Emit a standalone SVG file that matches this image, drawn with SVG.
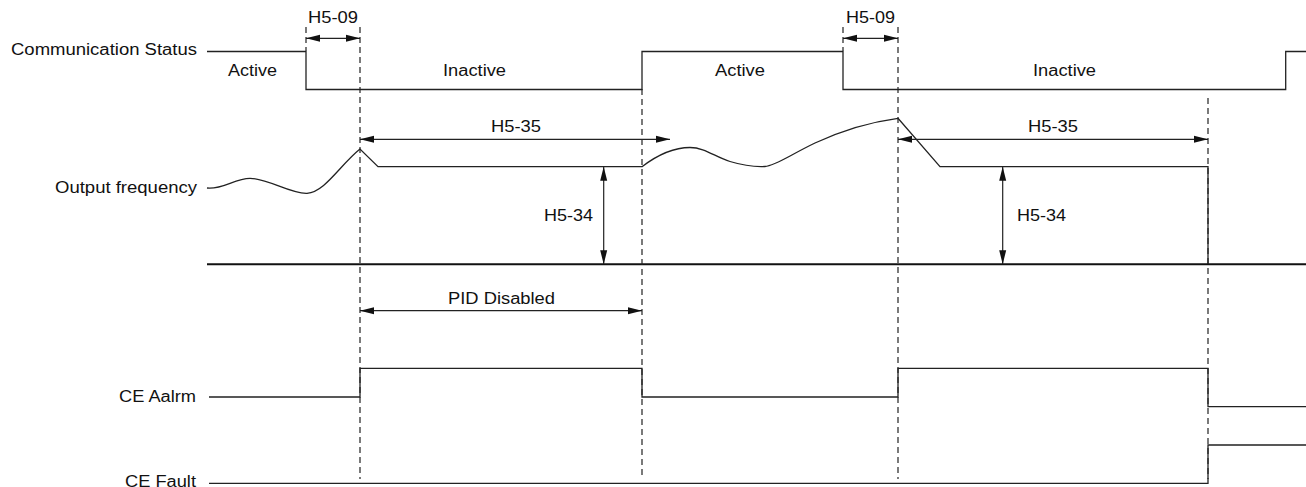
<svg xmlns="http://www.w3.org/2000/svg" width="1306" height="487" viewBox="0 0 1306 487">
  <style>
    .t { font-family: "Liberation Sans", Arial, sans-serif; font-size: 16px; fill: #111; }
    .sig { fill: none; stroke: #222; stroke-width: 1.3; }
    .axis { fill: none; stroke: #111; stroke-width: 2; }
    .dash { fill: none; stroke: #222; stroke-width: 1.2; stroke-dasharray: 6 4; }
    .dim { fill: none; stroke: #222; stroke-width: 1.2; marker-start: url(#ah); marker-end: url(#ah); }
  </style>
  <defs>
    <marker id="ah" viewBox="0 0 14 8" refX="14" refY="4" markerWidth="14" markerHeight="8" markerUnits="userSpaceOnUse" orient="auto-start-reverse">
      <path d="M0,0.5 L14,4 L0,7.5 z" fill="#111"/>
    </marker>
  </defs>
  <rect width="1306" height="487" fill="#fff"/>

  <g id="comm-status">
    <text class="t" x="11" y="55" textLength="186" lengthAdjust="spacingAndGlyphs">Communication Status</text>
    <path class="sig" d="M207,51.5 H306 V89.5 H642 V51.5 H843 V89.5 H1285.7 V51.5 H1306"/>
    <text class="t" x="228" y="76" textLength="49" lengthAdjust="spacingAndGlyphs">Active</text>
    <text class="t" x="443" y="76" textLength="63" lengthAdjust="spacingAndGlyphs">Inactive</text>
    <text class="t" x="715" y="76" textLength="50" lengthAdjust="spacingAndGlyphs">Active</text>
    <text class="t" x="1033" y="76" textLength="63" lengthAdjust="spacingAndGlyphs">Inactive</text>
  </g>

  <g id="output-frequency">
    <text class="t" x="55" y="193" textLength="142" lengthAdjust="spacingAndGlyphs">Output frequency</text>
    <path class="sig" d="M207,188 C222,190 235,178.3 250,178.3 C268,178.3 290,194 307,193.3 C325,192 340,165 360,149 L378,166.7 H642 C660,153 675,147.5 690,147.5 C705,147.5 715,157 730,161.5 C745,166 755,167 765,166.5 C775,166 790,155 815,143 C845,129 870,122 898,118.3 L940,166.7 H1208 V264"/>
    <line class="axis" x1="207" y1="264.3" x2="1306" y2="264.3"/>
  </g>

  <g id="ce-alarm">
    <text class="t" x="119" y="402" textLength="77" lengthAdjust="spacingAndGlyphs">CE Aalrm</text>
    <path class="sig" d="M209,397 H360 V368.3 H642 V397 H898 V368.3 H1208 V406.7 H1306"/>
  </g>

  <g id="ce-fault">
    <text class="t" x="125" y="486.5" textLength="71" lengthAdjust="spacingAndGlyphs">CE Fault</text>
    <path class="sig" d="M209,483.3 H1208 V445 H1306"/>
  </g>

  <g id="connectors">
    <line class="dash" x1="306" y1="27" x2="306" y2="51"/>
    <line class="dash" x1="360" y1="27" x2="360" y2="479"/>
    <line class="dash" x1="642" y1="89" x2="642" y2="479"/>
    <line class="dash" x1="843" y1="27" x2="843" y2="51"/>
    <line class="dash" x1="898" y1="27" x2="898" y2="479"/>
    <line class="dash" x1="1208" y1="98" x2="1208" y2="479"/>

    <line class="dim" x1="306" y1="38.3" x2="360" y2="38.3"/>
    <line class="dim" x1="843" y1="38.3" x2="898" y2="38.3"/>
    <line class="dim" x1="360" y1="139.3" x2="670" y2="139.3"/>
    <line class="dim" x1="898" y1="139.3" x2="1208" y2="139.3"/>
    <line class="dim" x1="360" y1="310.7" x2="642" y2="310.7"/>
    <line class="dim" x1="603.7" y1="166.7" x2="603.7" y2="264.3"/>
    <line class="dim" x1="1002.7" y1="166.7" x2="1002.7" y2="264.3"/>
  </g>

  <g id="labels">
    <text class="t" x="308" y="23" textLength="50" lengthAdjust="spacingAndGlyphs">H5-09</text>
    <text class="t" x="846" y="23" textLength="49" lengthAdjust="spacingAndGlyphs">H5-09</text>
    <text class="t" x="491" y="131.7" textLength="50" lengthAdjust="spacingAndGlyphs">H5-35</text>
    <text class="t" x="1028" y="131.7" textLength="50" lengthAdjust="spacingAndGlyphs">H5-35</text>
    <text class="t" x="544" y="221" textLength="49" lengthAdjust="spacingAndGlyphs">H5-34</text>
    <text class="t" x="1017" y="221" textLength="49" lengthAdjust="spacingAndGlyphs">H5-34</text>
    <text class="t" x="448" y="304" textLength="107" lengthAdjust="spacingAndGlyphs">PID Disabled</text>
  </g>
</svg>
